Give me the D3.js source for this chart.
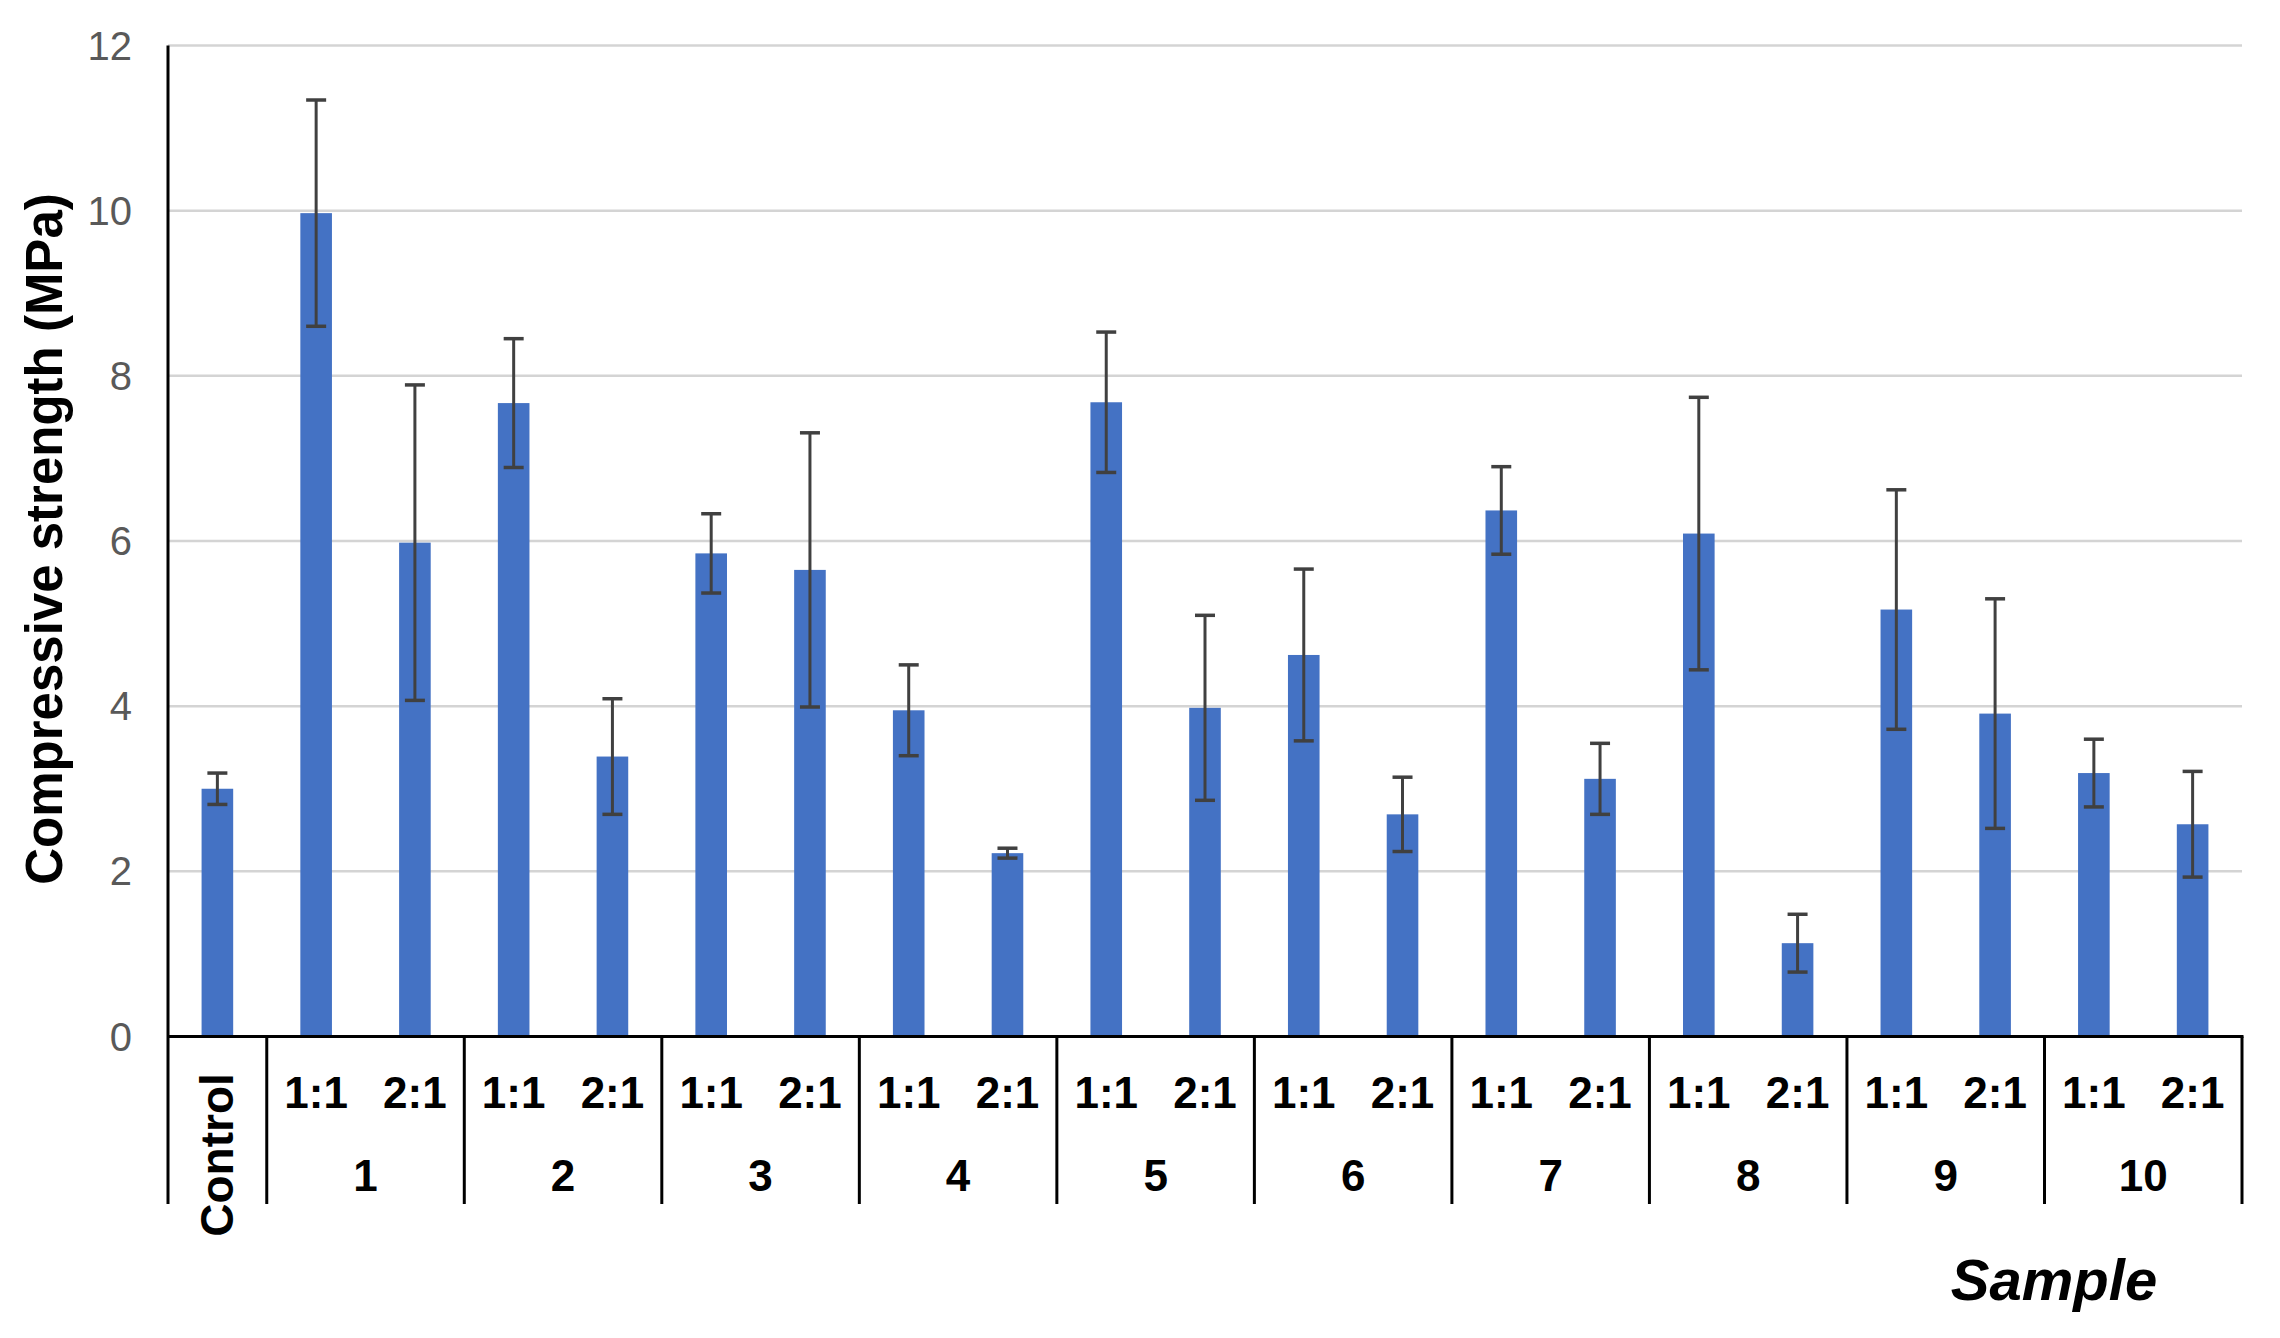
<!DOCTYPE html>
<head>
    <meta charset="utf-8">
    <title>Compressive strength</title>
<style>
    body {
        margin: 0;
        background: #fff;
        font-family: "Liberation Sans", Arial, sans-serif;
    }

    .tick-label {
        font-size: 40px;
        fill: #595959;
    }

    .cat {
        font-size: 44px;
        font-weight: bold;
        fill: #000;
    }

    .title {
        font-size: 51px;
        font-weight: bold;
        fill: #000;
    }
</style>
</head>
<body>
<script src="https://d3js.org/d3.v7.min.js"></script>
<script>

    // data
    const GROUPS = ["1", "2", "3", "4", "5", "6", "7", "8", "9", "10"];
    const RATIOS = ["1:1", "2:1"];
    const CONTROL = 3.0;
    const CONTROL_ERR = 0.19;
    const RATIO_11 = [9.97, 7.67, 5.85, 3.95, 7.68, 4.62, 6.37, 6.09, 5.17, 3.19];
    const ERR_11 = [1.37, 0.78, 0.48, 0.55, 0.85, 1.04, 0.53, 1.65, 1.45, 0.41];
    const RATIO_21 = [5.98, 3.39, 5.65, 2.22, 3.98, 2.69, 3.12, 1.13, 3.91, 2.57];
    const ERR_21 = [1.91, 0.70, 1.66, 0.06, 1.12, 0.45, 0.43, 0.35, 1.39, 0.64];
    const Y_TICKS = [0, 2, 4, 6, 8, 10, 12];

    // flat list of bars: control first, then 1:1 / 2:1 per group
    const bars = [{key: "Control", group: "Control", ratio: null, value: CONTROL, err: CONTROL_ERR}];
    GROUPS.forEach((g, i) => {
        bars.push({key: g + "-1:1", group: g, ratio: RATIOS[0], value: RATIO_11[i], err: ERR_11[i]});
        bars.push({key: g + "-2:1", group: g, ratio: RATIOS[1], value: RATIO_21[i], err: ERR_21[i]});
    });

    const W = 2280, H = 1338;
    const plotLeft = 168, plotRight = 2242, plotTop = 45.5, plotBottom = 1036.5;

    const svg = d3.select("body").append("svg")
        .attr("width", W)
        .attr("height", H);

    const x = d3.scaleBand().domain(bars.map(d => d.key)).range([plotLeft, plotRight]).padding(0);
    const y = d3.scaleLinear().domain([0, 12]).range([plotBottom, plotTop]);
    const barW = x.bandwidth() * 0.32;

    // gridlines
    svg.append("g")
        .selectAll("line")
        .data(Y_TICKS.filter(t => t > 0))
        .join("line")
        .attr("x1", plotLeft)
        .attr("x2", plotRight)
        .attr("y1", d => y(d))
        .attr("y2", d => y(d))
        .attr("stroke", "#d4d4d4")
        .attr("stroke-width", 2.5);

    // y tick labels
    svg.append("g")
        .selectAll("text")
        .data(Y_TICKS)
        .join("text")
        .attr("class", "tick-label")
        .attr("text-anchor", "end")
        .attr("dominant-baseline", "central")
        .attr("x", 132)
        .attr("y", d => y(d))
        .text(d => d);

    // bars
    svg.append("g")
        .selectAll("rect")
        .data(bars)
        .join("rect")
        .attr("x", d => x(d.key) + (x.bandwidth() - barW) / 2)
        .attr("y", d => y(d.value))
        .attr("width", barW)
        .attr("height", d => y(0) - y(d.value))
        .attr("fill", "#4472C4");

    // error bars
    const eb = svg.append("g")
        .attr("stroke", "#404040")
        .attr("stroke-width", 3.5)
        .selectAll("g")
        .data(bars)
        .join("g")
        .attr("transform", d => `translate(${x(d.key) + x.bandwidth() / 2},0)`);

    eb.append("line")
        .attr("y1", d => y(d.value + d.err))
        .attr("y2", d => y(d.value - d.err))
        .attr("stroke-width", 3);
    eb.append("line")
        .attr("x1", -10).attr("x2", 10)
        .attr("y1", d => y(d.value + d.err))
        .attr("y2", d => y(d.value + d.err));
    eb.append("line")
        .attr("x1", -10).attr("x2", 10)
        .attr("y1", d => y(d.value - d.err))
        .attr("y2", d => y(d.value - d.err));

    // axes
    const axisBottom = 1204;
    svg.append("line")
        .attr("x1", plotLeft).attr("x2", plotLeft)
        .attr("y1", plotTop).attr("y2", axisBottom)
        .attr("stroke", "#000").attr("stroke-width", 3);
    svg.append("line")
        .attr("x1", plotLeft).attr("x2", plotRight + 1.5)
        .attr("y1", y(0)).attr("y2", y(0))
        .attr("stroke", "#000").attr("stroke-width", 3);

    // group separators: after control and after each group
    const sepX = [x("Control") + x.bandwidth()].concat(GROUPS.map(g => x(g + "-2:1") + x.bandwidth()));
    svg.append("g")
        .selectAll("line")
        .data(sepX)
        .join("line")
        .attr("x1", d => d).attr("x2", d => d)
        .attr("y1", y(0)).attr("y2", axisBottom)
        .attr("stroke", "#000").attr("stroke-width", 3);

    // ratio labels
    svg.append("g")
        .selectAll("text")
        .data(bars.filter(d => d.ratio))
        .join("text")
        .attr("class", "cat")
        .attr("text-anchor", "middle")
        .attr("dominant-baseline", "central")
        .attr("x", d => x(d.key) + x.bandwidth() / 2)
        .attr("y", 1092)
        .text(d => d.ratio);

    // group labels
    svg.append("g")
        .selectAll("text")
        .data(GROUPS)
        .join("text")
        .attr("class", "cat")
        .attr("text-anchor", "middle")
        .attr("dominant-baseline", "central")
        .attr("x", g => x(g + "-2:1"))
        .attr("y", 1175)
        .text(g => g);

    // control label, rotated
    svg.append("text")
        .attr("class", "cat")
        .attr("text-anchor", "middle")
        .attr("dominant-baseline", "central")
        .attr("transform", `translate(${x("Control") + x.bandwidth() / 2},1155) rotate(-90)`)
        .style("font-size", "46px")
        .text("Control");

    // axis titles
    svg.append("text")
        .attr("class", "title")
        .attr("text-anchor", "middle")
        .attr("dominant-baseline", "central")
        .attr("transform", "translate(44,539) rotate(-90)")
        .text("Compressive strength (MPa)");

    svg.append("text")
        .attr("class", "title")
        .attr("text-anchor", "middle")
        .attr("x", 2054)
        .attr("y", 1300)
        .style("font-style", "italic")
        .style("font-size", "58px")
        .text("Sample");
</script>
